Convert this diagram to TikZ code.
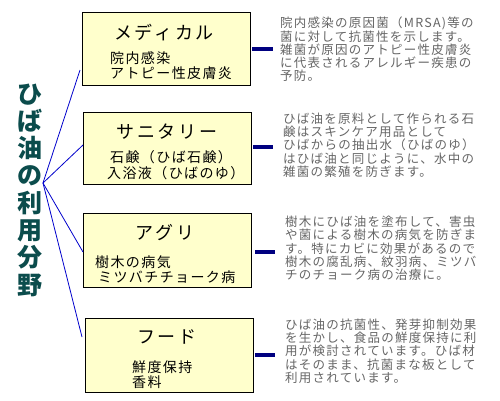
\documentclass[tikz,border=0pt]{standalone}
\usepackage{fontspec}
\newfontfamily\jp{Noto Sans CJK JP}
\newfontfamily\jphead[LetterSpace=15]{Noto Sans CJK JP}
\newfontfamily\jpsub[LetterSpace=10]{Noto Sans CJK JP}
\newfontfamily\jpdesc[LetterSpace=10]{Noto Sans CJK JP}
\definecolor{boxfill}{HTML}{FFFFCC}
\definecolor{titlecol}{HTML}{0B4C4C}
\definecolor{desccol}{HTML}{666666}
\definecolor{thinblue}{HTML}{0000CC}
\definecolor{navy}{HTML}{000080}
\setlength{\lineskiplimit}{-30pt}
\begin{document}
\begin{tikzpicture}[x=1bp,y=-1bp,
  fieldbox/.style={draw=black, line width=1bp, fill=boxfill, inner sep=0pt},
  headtxt/.style={inner sep=0pt, anchor=center, font=\jphead\fontsize{18bp}{20bp}\selectfont, text=black},
  subtxt/.style={inner sep=0pt, anchor=west, font=\jpsub\fontsize{14bp}{15bp}\selectfont, text=black},
  desctxt/.style={inner sep=0pt, anchor=west, align=left, font=\jpdesc\fontsize{12.5bp}{13.3bp}\selectfont, text=desccol},
  thinline/.style={draw=thinblue, line width=0.8bp},
  thickline/.style={draw=navy, line width=4bp}]
\useasboundingbox[fill=white] (0,0) rectangle (500,400);

% title
\node[inner sep=0pt, align=center, text=titlecol,
      font=\jp\bfseries\fontsize{25bp}{27.3bp}\selectfont] (title) at (30,190)
  {ひ\\ば\\油\\の\\利\\用\\分\\野};

% boxes
\path[fieldbox] (82,12) rectangle (250,85) node[pos=0.5, inner sep=0pt] (b1) {};
\path[fieldbox] (83,112) rectangle (251,184) node[pos=0.5, inner sep=0pt] (b2) {};
\path[fieldbox] (83,213) rectangle (251,287) node[pos=0.5, inner sep=0pt] (b3) {};
\path[fieldbox] (85,318) rectangle (253,392) node[pos=0.5, inner sep=0pt] (b4) {};

% box texts
\node[headtxt] (h1) at (164,33) {メディカル};
\node[subtxt] (s1a) at (110,58) {院内感染};
\node[subtxt] (s1b) at (110,73) {アトピー性皮膚炎};

\node[headtxt] (h2) at (167,132) {サニタリー};
\node[subtxt] (s2a) at (110,157) {石鹸（ひば石鹸）};
\node[subtxt] (s2b) at (107,173) {入浴液（ひばのゆ）};

\node[headtxt] (h3) at (165,233) {アグリ};
\node[subtxt] (s3a) at (95,262) {樹木の病気};
\node[subtxt] (s3b) at (98,277) {ミツバチチョーク病};

\node[headtxt] (h4) at (167,337) {フード};
\node[subtxt] (s4a) at (132,367) {鮮度保持};
\node[subtxt] (s4b) at (132,382) {香料};

% thin connectors from title
\coordinate (apex) at (43,183);
\coordinate (e1) at (80,70);
\coordinate (e2) at (83,145);
\coordinate (e3) at (83,252);
\coordinate (e4) at (82,337);
\draw[thinline] (apex) -- (e1);
\draw[thinline] (apex) -- (e2);
\draw[thinline] (apex) -- (e3);
\draw[thinline] (apex) -- (e4);

% thick connectors
\coordinate (t1s) at (252,49);  \coordinate (t1) at (273,49);
\coordinate (t2s) at (253,147); \coordinate (t2) at (273,147);
\coordinate (t3s) at (255,252); \coordinate (t3) at (275,252);
\coordinate (t4s) at (255,355); \coordinate (t4) at (275,355);
\draw[thickline] (t1s) -- (t1);
\draw[thickline] (t2s) -- (t2);
\draw[thickline] (t3s) -- (t3);
\draw[thickline] (t4s) -- (t4);

% descriptions
\node[desctxt] (d1) at (280,49.5) {院内感染の原因菌（MRSA)等の\\菌に対して抗菌性を示します。\\雑菌が原因のアトピー性皮膚炎\\に代表されるアレルギー疾患の\\予防。};
\node[desctxt] (d2) at (283,145) {ひば油を原料として作られる石\\鹸はスキンケア用品として\\ひばからの抽出水（ひばのゆ）\\はひば油と同じように、水中の\\雑菌の繁殖を防ぎます。};
\node[desctxt] (d3) at (285,248.5) {樹木にひば油を塗布して、害虫\\や菌による樹木の病気を防ぎま\\す。特にカビに効果があるので\\樹木の腐乱病、紋羽病、ミツバ\\チのチョーク病の治療に。};
\node[desctxt] (d4) at (285,351) {ひば油の抗菌性、発芽抑制効果\\を生かし、食品の鮮度保持に利\\用が検討されています。ひば材\\はそのまま、抗菌まな板として\\利用されています。};
\end{tikzpicture}
\end{document}
